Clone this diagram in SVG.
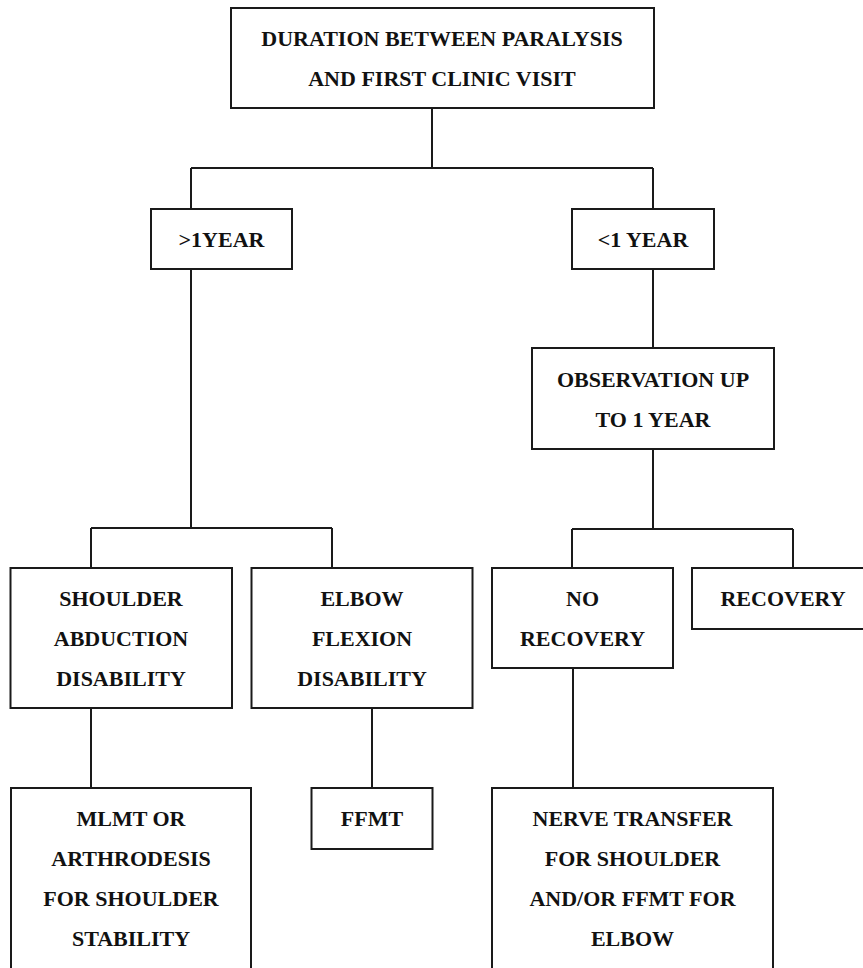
<svg xmlns="http://www.w3.org/2000/svg" width="863" height="968" viewBox="0 0 863 968">
<style>
.box{fill:#fff;stroke:#1a1a1a;stroke-width:2}
.ln{fill:none;stroke:#1a1a1a;stroke-width:2}
text{font-family:"Liberation Serif","Times New Roman",serif;font-weight:bold;font-size:22px;fill:#111;text-anchor:middle}
</style>
<rect width="863" height="968" fill="#fff"/>
<g id="connectors">
<path class="ln" d="M432,108 V168 M191,168 H653 M191,168 V209 M653,168 V209"/>
<path class="ln" d="M191,269 V528 M91,528 H332 M91,528 V568 M332,528 V568"/>
<path class="ln" d="M653,269 V348 M653,449 V529 M572,529 H793 M572,529 V568 M793,529 V568"/>
<path class="ln" d="M91,708 V788 M372,708 V788 M573,668 V788"/>
</g>
<g id="root"><rect class="box" x="231" y="8" width="423" height="100"/>
<text x="442" y="46">DURATION BETWEEN PARALYSIS</text><text x="442" y="86">AND FIRST CLINIC VISIT</text></g>
<g id="gt1year"><rect class="box" x="151" y="209" width="141" height="60"/><text x="221.5" y="247">&gt;1YEAR</text></g>
<g id="lt1year"><rect class="box" x="572" y="209" width="142" height="60"/><text x="643" y="247">&lt;1 YEAR</text></g>
<g id="observation"><rect class="box" x="532" y="348" width="242" height="101"/><text x="653" y="387">OBSERVATION UP</text><text x="653" y="427">TO 1 YEAR</text></g>
<g id="shoulder"><rect class="box" x="10.5" y="568" width="221.5" height="140"/><text x="121" y="606">SHOULDER</text><text x="121" y="646">ABDUCTION</text><text x="121" y="686">DISABILITY</text></g>
<g id="elbow"><rect class="box" x="251.5" y="568" width="221" height="140"/><text x="362" y="606">ELBOW</text><text x="362" y="646">FLEXION</text><text x="362" y="686">DISABILITY</text></g>
<g id="norecovery"><rect class="box" x="492" y="568" width="181" height="100"/><text x="582.5" y="606">NO</text><text x="582.5" y="646">RECOVERY</text></g>
<g id="recovery"><rect class="box" x="692" y="568" width="182" height="61"/><text x="783" y="606">RECOVERY</text></g>
<g id="mlmt"><rect class="box" x="11" y="788" width="240" height="185"/><text x="131" y="826">MLMT OR</text><text x="131" y="866">ARTHRODESIS</text><text x="131" y="906">FOR SHOULDER</text><text x="131" y="946">STABILITY</text></g>
<g id="ffmt"><rect class="box" x="311.5" y="788" width="121" height="61"/><text x="372" y="826">FFMT</text></g>
<g id="nerve"><rect class="box" x="492" y="788" width="281" height="185"/><text x="632.5" y="826">NERVE TRANSFER</text><text x="632.5" y="866">FOR SHOULDER</text><text x="632.5" y="906">AND/OR FFMT FOR</text><text x="632.5" y="946">ELBOW</text></g>
</svg>
